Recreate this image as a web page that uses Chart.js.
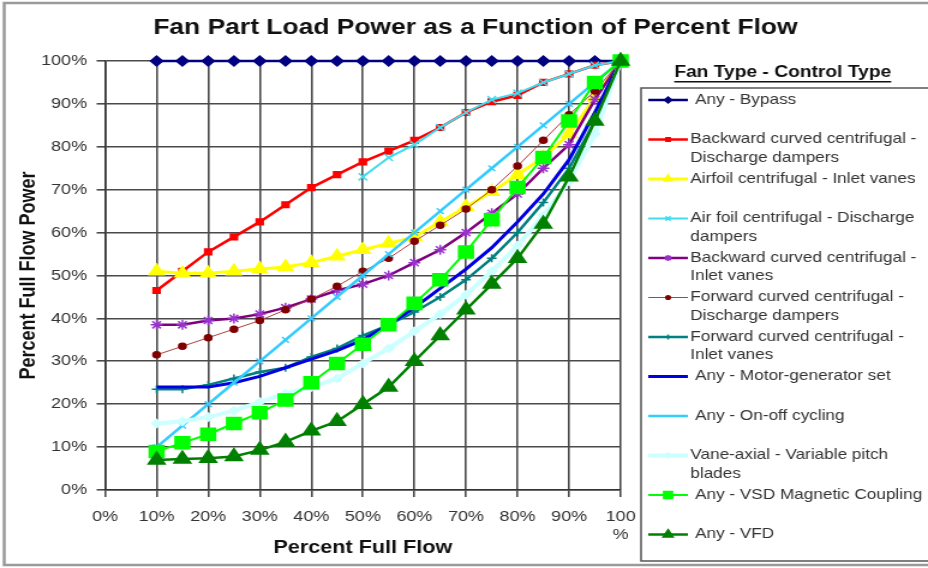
<!DOCTYPE html>
<html>
<head>
<meta charset="utf-8">
<title>Fan Part Load Power</title>
<script src="https://cdn.jsdelivr.net/npm/chart.js@4.4.1/dist/chart.umd.min.js"></script>
<style>
  html, body { margin: 0; padding: 0; background: #fff; overflow: hidden; }
  /* the chart is laid out narrow and widened, like the wide Excel export */
  #chart { display: block; transform: scaleX(1.2005); transform-origin: 0 0; }
</style>
</head>
<body>
<canvas id="chart" width="773" height="568"></canvas>
<script>
const FONT = 'Arial, "Liberation Sans", sans-serif';

const chartTitle = 'Fan Part Load Power as a Function of Percent Flow';
const legendTitle = 'Fan Type - Control Type';
const xTitle = 'Percent Full Flow';
const yTitle = 'Percent Full Flow Power';

// percent of full flow
const flowPct = [10, 15, 20, 25, 30, 35, 40, 45, 50, 55, 60, 65, 70, 75, 80, 85, 90, 95, 100];

// percent of full flow power, one list per fan / control type
const bypass       = [100, 100, 100, 100, 100, 100, 100, 100, 100, 100, 100, 100, 100, 100, 100, 100, 100, 100, 100];
const bcDischarge  = [46.5, 51, 55.5, 59, 62.5, 66.5, 70.5, 73.5, 76.5, 79, 81.5, 84.5, 88, 90.5, 92, 95, 97, 99, 100];
const afInlet      = [51, 50.5, 50.5, 51, 51.5, 52, 53, 54.5, 56, 57.5, 59, 62.5, 66, 69.5, 73.5, 77.5, 83, 91.5, 100];
const afDischarge  = [null, null, null, null, null, null, null, null, 73, 77.5, 80.5, 84.5, 88, 91, 92.5, 95, 97, 99, 100];
const bcInlet      = [38.5, 38.5, 39.5, 40, 41, 42.5, 44.5, 46.5, 48, 50, 53, 56, 60, 64.5, 69, 75, 80.5, 91, 100];
const fcDischarge  = [31.5, 33.5, 35.5, 37.5, 39.5, 42, 44.5, 47.5, 51, 54, 58, 61.7, 65.5, 70, 75.5, 81.5, 87.5, 93, 100];
const fcInlet      = [23.5, 23.5, 24.5, 26, 27.5, 28.5, 31, 33, 36, 38.5, 41.5, 45, 49, 54, 60, 67, 75, 86, 100];
const motorGen     = [24, 24, 24, 25, 26.5, 28.5, 30.5, 32.5, 35, 38.5, 42.5, 47, 51.5, 56.5, 62.5, 69, 77, 88, 100];
const onOff        = [10, 15, 20, 25, 30, 35, 40, 45, 50, 55, 60, 65, 70, 75, 80, 85, 90, 95, 100];
const vaneAxial    = [15.5, 16, 17, 18.5, 20.5, 22.5, 24, 26, 29.5, 33, 37, 41, 45.5, 51, 57, 64, 72, 83, 100];
const vsdCoupling  = [9, 11, 13, 15.5, 18, 21, 25, 29.5, 34, 38.5, 43.5, 49, 55.5, 63, 70.5, 77.5, 86, 95, 100];
const vfd          = [7, 7.2, 7.4, 7.8, 9.3, 11.2, 13.8, 16, 20, 24, 30, 36, 42, 48, 54, 62, 73, 86, 100];

// legend text, split where the legend wraps it
const seriesNames = [
  [' Any - Bypass'],
  ['Backward curved centrifugal -', 'Discharge dampers'],
  ['Airfoil centrifugal - Inlet vanes'],
  ['Air foil centrifugal - Discharge', 'dampers'],
  ['Backward curved centrifugal -', 'Inlet vanes'],
  ['Forward curved centrifugal -', 'Discharge dampers'],
  ['Forward curved centrifugal -', 'Inlet vanes'],
  [' Any - Motor-generator set'],
  [' Any - On-off cycling'],
  ['Vane-axial - Variable pitch', 'blades'],
  [' Any - VSD Magnetic Coupling'],
  [' Any - VFD']
];

const toPoints = vals => flowPct.map((f, i) => ({ x: f, y: vals[i] }));

function line(i, vals, color, width, pointStyle, radius, extra) {
  return Object.assign({
    label: seriesNames[i].join(' ').trim(),
    data: toPoints(vals),
    borderColor: color,
    backgroundColor: color,
    borderWidth: width,
    pointStyle: pointStyle,
    pointRadius: radius,
    pointBackgroundColor: color,
    pointBorderColor: color,
    pointBorderWidth: 1.5,
    tension: 0,
    spanGaps: false,
    clip: false,
    order: 20 - i
  }, extra || {});
}

const datasets = [
  line(0, bypass, '#000080', 2.5, 'rectRot', 5),
  line(1, bcDischarge, '#ff0000', 2.5, 'rect', 4),
  line(2, afInlet, '#ffff00', 3, 'triangle', 7),
  line(3, afDischarge, '#40dcf0', 2, 'crossRot', 5),
  line(4, bcInlet, '#800080', 2.5, 'star', 5, { pointBorderColor: '#9933cc' }),
  line(5, fcDischarge, '#b04040', 1, 'circle', 3, { pointBackgroundColor: '#800000', pointBorderColor: '#800000' }),
  line(6, fcInlet, '#008080', 2.5, 'cross', 4),
  line(7, motorGen, '#0000e0', 3, 'circle', 0),
  line(8, onOff, '#33ccff', 2.5, 'crossRot', 4, { legendMarker: false }),
  line(9, vaneAxial, '#ccffff', 4, 'rectRot', 4),
  line(10, vsdCoupling, '#00ff00', 2, 'rect', 8.5),
  line(11, vfd, '#008000', 2.5, 'triangle', 8)
];

// white page, grey outer frame, title and the boxed legend on the right
const frameAndLegend = {
  id: 'frameAndLegend',
  beforeDraw(chart) {
    const ctx = chart.ctx;
    ctx.save();
    ctx.fillStyle = '#fff';
    ctx.fillRect(0, 0, chart.width, chart.height);
    ctx.strokeStyle = '#9a9a9a';
    ctx.lineWidth = 2.5;
    ctx.strokeRect(3.5, 3, chart.width + 20, 562);
    ctx.restore();
  },
  afterDraw(chart) {
    const ctx = chart.ctx;
    ctx.save();
    ctx.fillStyle = '#111';
    ctx.font = 'bold 22px ' + FONT;
    ctx.textAlign = 'center';
    ctx.textBaseline = 'middle';
    ctx.fillText(chartTitle, 396, 28);

    ctx.strokeStyle = '#555';
    ctx.lineWidth = 1.5;
    ctx.strokeRect(534, 88, 300, 473);

    ctx.font = 'bold 16px ' + FONT;
    ctx.fillText(legendTitle, 652, 73);
    const tw = ctx.measureText(legendTitle).width;
    ctx.fillRect(652 - tw / 2, 81, tw, 1.5);

    ctx.textAlign = 'left';
    ctx.font = '14.3px ' + FONT;
    chart.data.datasets.forEach((ds, i) => {
      const y = 100 + i * 39.5;
      ctx.strokeStyle = ds.borderColor;
      ctx.lineWidth = ds.borderWidth;
      ctx.beginPath();
      ctx.moveTo(540, y);
      ctx.lineTo(573, y);
      ctx.stroke();
      if (ds.legendMarker !== false && ds.pointRadius > 0) {
        ctx.fillStyle = ds.pointBackgroundColor;
        ctx.strokeStyle = ds.pointBorderColor;
        ctx.lineWidth = ds.pointBorderWidth;
        Chart.helpers.drawPoint(ctx, {
          pointStyle: ds.pointStyle, radius: ds.pointRadius * 0.6,
          rotation: 0, borderWidth: ds.pointBorderWidth
        }, 556.5, y);
      }
      ctx.fillStyle = '#333';
      seriesNames[i].forEach((txt, k) => ctx.fillText(txt, 575, y + k * 18.5));
    });
    ctx.restore();
  }
};

const gridColor = '#4a4a4a';

new Chart(document.getElementById('chart'), {
  type: 'line',
  data: { datasets: datasets },
  plugins: [frameAndLegend],
  options: {
    responsive: false,
    animation: false,
    devicePixelRatio: 1,
    layout: { padding: { left: 4, right: 256, top: 61, bottom: 0 } },
    plugins: {
      legend: { display: false },
      tooltip: { enabled: false },
      title: { display: false }
    },
    scales: {
      x: {
        type: 'linear',
        min: 0,
        max: 100,
        afterFit: s => { s.height = 78; },
        ticks: {
          stepSize: 10,
          color: '#333',
          padding: 11,
          font: { family: FONT, size: 15 },
          callback: v => v === 100 ? ['100', '%'] : v + '%'
        },
        grid: { color: gridColor, lineWidth: 1.6, tickLength: 7 },
        border: { color: '#333', width: 1.6 },
        title: {
          display: true, text: xTitle, color: '#111',
          font: { family: FONT, size: 18, weight: 'bold' },
          padding: { top: 2, bottom: 9 }
        }
      },
      y: {
        min: 0,
        max: 100,
        afterFit: s => { s.width = 83.5; },
        ticks: {
          stepSize: 10,
          color: '#333',
          padding: 8,
          font: { family: FONT, size: 15 },
          callback: v => v + '%'
        },
        grid: { color: gridColor, lineWidth: 1.6, tickLength: 7 },
        border: { color: '#333', width: 1.6 },
        title: {
          display: true, text: yTitle, color: '#111',
          font: { family: FONT, size: 18, weight: 'bold' },
          padding: { top: 9, bottom: 2 }
        }
      }
    }
  }
});
</script>
</body>
</html>
